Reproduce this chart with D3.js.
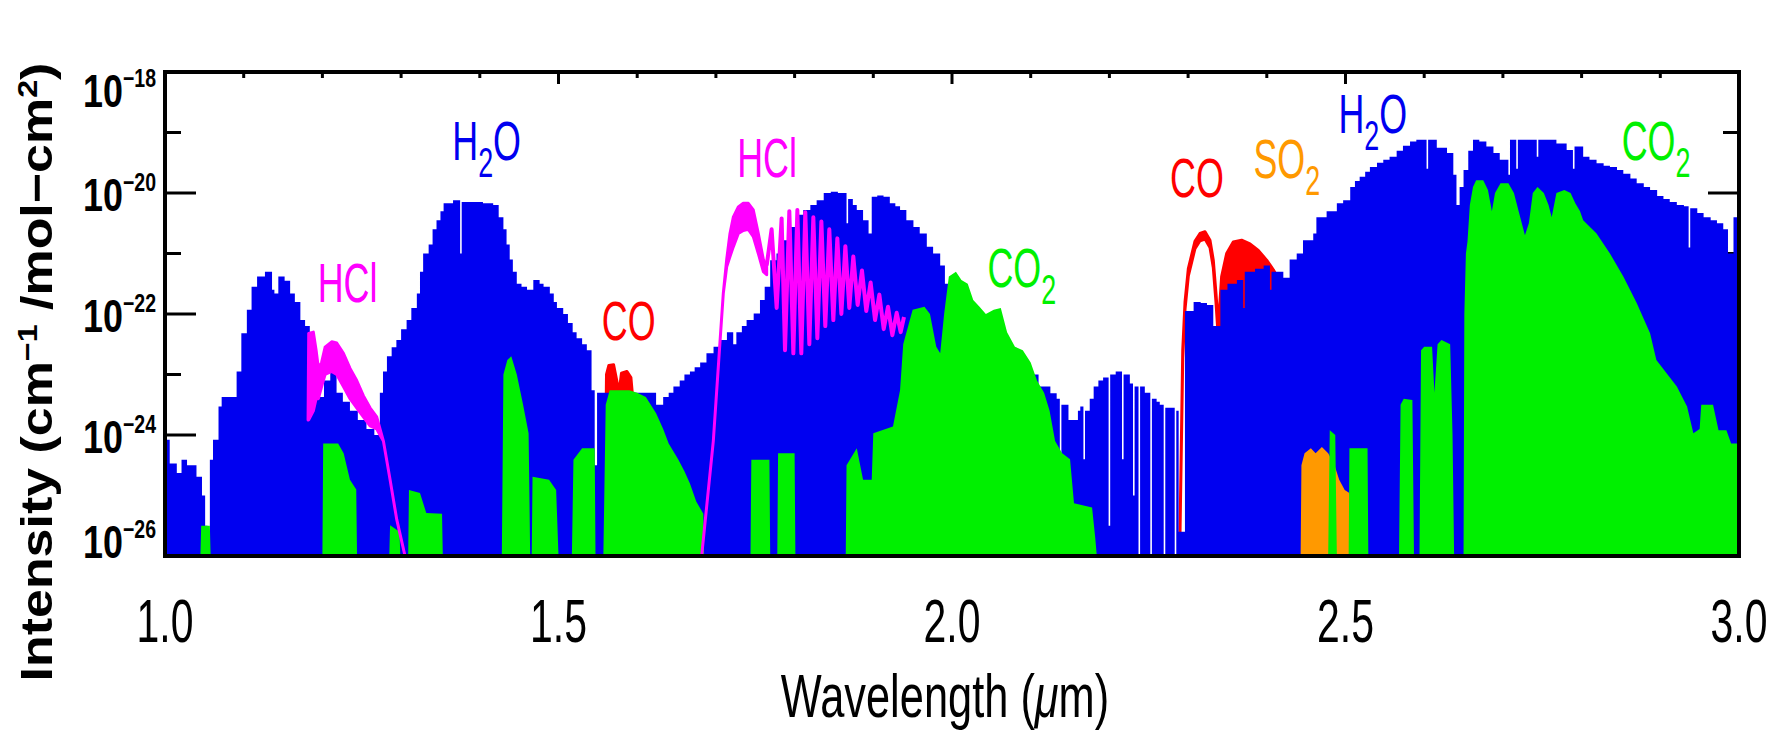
<!DOCTYPE html>
<html>
<head>
<meta charset="utf-8">
<script src="https://cdn.jsdelivr.net/npm/d3@7"></script>
<style>
  body { margin: 0; background: #fff; }
  svg { display: block; }
</style>
</head>
<body>
<script>
// H2O absorption, upper envelope (log10 intensity)
const h2oWave = [1.000,1.006,1.015,1.021,1.028,1.040,1.047,1.051,1.054,1.057,1.061,1.068,1.072,1.091,1.097,1.104,1.110,1.117,1.127,1.136,1.139,1.144,1.152,1.159,1.165,1.172,1.178,1.184,1.193,1.202,1.210,1.218,1.226,1.235,1.245,1.256,1.266,1.273,1.277,1.282,1.288,1.294,1.300,1.307,1.313,1.320,1.324,1.328,1.335,1.340,1.345,1.350,1.354,1.366,1.375,1.377,1.390,1.404,1.417,1.424,1.430,1.434,1.438,1.442,1.447,1.453,1.460,1.468,1.476,1.481,1.489,1.494,1.498,1.506,1.512,1.518,1.523,1.530,1.536,1.542,1.546,1.549,1.600,1.624,1.633,1.640,1.646,1.654,1.660,1.667,1.673,1.680,1.688,1.697,1.705,1.714,1.722,1.726,1.733,1.739,1.748,1.756,1.762,1.769,1.777,1.786,1.794,1.803,1.811,1.820,1.828,1.837,1.846,1.855,1.862,1.866,1.868,1.874,1.879,1.887,1.894,1.898,1.905,1.913,1.921,1.928,1.934,1.942,1.951,1.959,1.968,1.976,1.985,1.991,1.997,2.010,2.030,2.050,2.070,2.090,2.110,2.125,2.133,2.137,2.139,2.148,2.160,2.163,2.167,2.169,2.175,2.180,2.186,2.192,2.199,2.201,2.208,2.216,2.218,2.226,2.230,2.232,2.237,2.239,2.245,2.252,2.254,2.260,2.264,2.269,2.271,2.277,2.283,2.285,2.288,2.296,2.307,2.316,2.324,2.332,2.341,2.350,2.362,2.370,2.372,2.385,2.396,2.404,2.406,2.421,2.429,2.438,2.446,2.459,2.463,2.476,2.489,2.497,2.506,2.512,2.518,2.525,2.531,2.540,2.548,2.556,2.565,2.573,2.582,2.590,2.603,2.605,2.616,2.629,2.637,2.641,2.645,2.650,2.656,2.662,2.670,2.679,2.688,2.696,2.707,2.709,2.717,2.719,2.734,2.743,2.745,2.751,2.768,2.781,2.789,2.791,2.802,2.810,2.819,2.828,2.836,2.845,2.853,2.862,2.870,2.879,2.887,2.896,2.904,2.912,2.921,2.930,2.936,2.938,2.947,2.955,2.964,2.972,2.980,2.986,2.993,3.000];
const h2oLog = [-24.08,-24.47,-24.63,-24.41,-24.5,-24.69,-25.0,-25.5,-26.5,-24.41,-24.08,-23.53,-23.37,-22.95,-22.32,-21.93,-21.55,-21.38,-21.30,-21.6,-21.66,-21.38,-21.45,-21.66,-21.8,-22.1,-22.2,-22.9,-23.37,-23.1,-22.95,-23.3,-23.45,-23.6,-23.75,-23.9,-24.0,-23.3,-22.95,-22.7,-22.55,-22.43,-22.25,-22.1,-21.9,-21.66,-21.3,-21.0,-20.85,-20.6,-20.45,-20.3,-20.17,-20.12,-21.0,-20.15,-20.15,-20.17,-20.2,-20.4,-20.6,-20.85,-21.1,-21.3,-21.5,-21.55,-21.6,-21.44,-21.5,-21.55,-21.66,-21.8,-21.9,-22.0,-22.15,-22.3,-22.4,-22.5,-22.6,-23.26,-24.5,-23.3,-23.3,-23.5,-23.37,-23.3,-23.2,-23.1,-23.0,-22.95,-22.88,-22.8,-22.65,-22.54,-22.43,-22.3,-22.5,-22.3,-22.2,-22.1,-21.99,-21.77,-21.55,-21.11,-21.0,-20.78,-20.56,-20.36,-20.28,-20.2,-20.12,-20.0,-19.98,-20.0,-20.0,-20.5,-20.1,-20.2,-20.28,-20.45,-20.67,-20.06,-20.04,-20.06,-20.17,-20.22,-20.28,-20.45,-20.56,-20.67,-20.89,-21.0,-21.2,-21.5,-22.0,-22.2,-22.4,-22.6,-22.8,-23.0,-23.2,-23.31,-23.4,-24.3,-23.5,-23.75,-23.6,-23.53,-24.4,-23.6,-23.4,-23.2,-23.1,-23.05,-25.5,-23.0,-22.95,-24.4,-23.0,-23.15,-25.0,-23.2,-26.5,-23.2,-23.3,-26.5,-23.4,-23.45,-23.5,-26.5,-23.55,-23.55,-26.5,-23.6,-25.6,-21.95,-21.8,-21.82,-21.85,-22.2,-21.6,-21.5,-21.44,-21.9,-21.3,-21.25,-21.2,-21.6,-21.3,-21.4,-21.1,-21.0,-20.78,-20.67,-20.4,-20.3,-20.17,-20.12,-19.9,-19.8,-19.73,-19.65,-19.57,-19.5,-19.45,-19.4,-19.3,-19.22,-19.15,-19.12,-19.6,-19.12,-19.25,-19.34,-19.7,-20.2,-19.9,-19.62,-19.3,-19.12,-19.15,-19.23,-19.34,-19.45,-19.7,-19.12,-19.6,-19.12,-19.12,-19.4,-19.12,-19.12,-19.18,-19.29,-19.6,-19.23,-19.4,-19.45,-19.51,-19.55,-19.57,-19.62,-19.68,-19.76,-19.84,-19.9,-19.95,-20.05,-20.1,-20.15,-20.2,-20.22,-20.9,-20.25,-20.33,-20.4,-20.45,-20.5,-20.6,-21.0,-20.4,-20.4];

// CO2 envelope
const co2Wave = [1.045,1.046,1.057,1.058,1.200,1.201,1.220,1.227,1.235,1.243,1.244,1.285,1.286,1.298,1.299,1.309,1.310,1.324,1.332,1.352,1.353,1.428,1.430,1.435,1.440,1.447,1.455,1.462,1.464,1.466,1.467,1.488,1.497,1.500,1.517,1.519,1.530,1.546,1.547,1.557,1.560,1.565,1.590,1.600,1.611,1.624,1.633,1.640,1.652,1.660,1.667,1.675,1.684,1.685,1.744,1.745,1.768,1.769,1.778,1.779,1.800,1.801,1.865,1.866,1.879,1.887,1.898,1.900,1.925,1.934,1.938,1.950,1.965,1.972,1.980,1.985,1.990,1.996,2.005,2.012,2.020,2.027,2.035,2.043,2.053,2.062,2.070,2.080,2.090,2.100,2.108,2.117,2.124,2.131,2.140,2.150,2.155,2.178,2.182,2.184,2.478,2.480,2.487,2.489,2.504,2.505,2.528,2.529,2.568,2.570,2.574,2.585,2.587,2.594,2.596,2.600,2.610,2.613,2.617,2.622,2.633,2.636,2.638,2.650,2.651,2.653,2.655,2.658,2.662,2.666,2.675,2.681,2.686,2.690,2.697,2.707,2.714,2.720,2.728,2.733,2.738,2.744,2.752,2.758,2.762,2.768,2.778,2.786,2.792,2.798,2.802,2.819,2.836,2.853,2.870,2.887,2.895,2.908,2.921,2.934,2.942,2.950,2.952,2.967,2.974,2.984,2.990,3.000];
const co2Log = [-27,-25.5,-25.5,-27,-27,-24.14,-24.14,-24.3,-24.74,-24.9,-27,-27,-25.49,-25.6,-27,-27,-24.91,-24.96,-25.29,-25.3,-27,-27,-23.0,-22.76,-22.7,-23.0,-23.5,-23.97,-27,-27,-24.69,-24.74,-24.91,-27,-27,-24.41,-24.22,-24.22,-27,-27,-23.5,-23.26,-23.26,-23.3,-23.37,-23.64,-23.9,-24.14,-24.4,-24.6,-24.8,-25.1,-25.3,-27,-27,-24.41,-24.41,-27,-27,-24.3,-24.3,-27,-27,-24.5,-24.22,-24.74,-24.74,-23.97,-23.86,-23.26,-22.5,-21.93,-21.88,-22.0,-22.54,-22.65,-22.0,-21.38,-21.3,-21.44,-21.5,-21.77,-21.88,-22.0,-21.93,-21.9,-22.3,-22.54,-22.6,-22.8,-23.1,-23.3,-23.6,-24.1,-24.3,-24.4,-25.13,-25.2,-25.7,-27,-27,-23.92,-24.0,-27,-27,-24.22,-24.22,-27,-27,-23.5,-23.4,-23.42,-27,-27,-22.6,-22.54,-22.54,-23.3,-22.5,-22.43,-22.5,-24.0,-27,-27,-22.0,-21.0,-20.8,-20.2,-19.9,-19.79,-19.79,-19.95,-20.3,-20.0,-19.84,-19.84,-20.0,-20.3,-20.7,-20.5,-20.0,-19.9,-20.0,-20.2,-20.4,-20.0,-19.95,-20.0,-20.17,-20.3,-20.45,-20.67,-21.0,-21.38,-21.82,-22.32,-22.76,-22.98,-23.2,-23.53,-23.97,-23.9,-23.5,-23.5,-23.92,-23.92,-24.14,-24.14];

// SO2 envelope
const so2Wave = [2.443,2.444,2.448,2.456,2.462,2.470,2.478,2.486,2.492,2.499,2.505,2.510,2.513,2.514];
const so2Log = [-27,-24.5,-24.3,-24.22,-24.3,-24.2,-24.3,-24.5,-24.74,-24.91,-24.96,-25.2,-25.3,-27];

// CO bands: top and bottom of the line comb
const coAWave = [1.5585,1.561,1.564,1.570,1.574,1.577,1.580,1.587,1.592,1.595,1.597];
const coATop = [-26,-23.0,-22.85,-22.84,-23.1,-23.3,-22.98,-22.95,-23.05,-23.5,-23.8];
const coABot = [-26,-23.3,-23.3,-23.3,-23.5,-23.7,-23.5,-23.5,-23.6,-23.9,-24.0];

const coBWave = [2.2876,2.2897,2.2932,2.2961,2.3003,2.3087,2.3151,2.3215,2.3278,2.3320,2.3354,2.3384,2.3426,2.3490,2.3574,2.3680,2.3786,2.3892,2.3998,2.4083,2.4167,2.4231,2.4273,2.4303];
const coBTop = [-26,-25.63,-22.6,-21.8,-21.25,-20.8,-20.67,-20.64,-20.78,-21.11,-21.66,-22.21,-21.38,-21.0,-20.81,-20.78,-20.84,-20.95,-21.11,-21.27,-21.47,-21.66,-21.82,-22.0];
const coBBot = [-26,-25.63,-22.72,-21.92,-21.37,-20.92,-20.79,-20.76,-20.9,-21.23,-21.8,-22.4,-22.2,-22.2,-22.2,-22.2,-22.2,-22.2,-22.2,-22.2,-22.2,-22.2,-22.2,-22.2];

// HCl bands
const hclAWave = [1.1818,1.1826,1.1885,1.1920,1.1949,1.1990,1.2034,1.2118,1.2182,1.2267,1.2351,1.2436,1.2520,1.2605,1.2690,1.2775,1.2860,1.2945,1.3050];
const hclATop = [-23.75,-22.32,-22.3,-22.6,-22.9,-22.8,-22.55,-22.46,-22.48,-22.65,-22.9,-23.1,-23.35,-23.55,-23.7,-24.1,-24.74,-25.4,-26];
const hclABot = [-23.75,-23.75,-23.6,-23.4,-23.4,-23.2,-23.0,-22.95,-23.0,-23.2,-23.4,-23.55,-23.7,-23.85,-23.9,-24.1,-24.74,-25.4,-26];

const hclBWave = [1.6819,1.6967,1.7052,1.7094,1.7137,1.7179,1.7221,1.7285,1.7348,1.7412,1.7475,1.7539,1.7603,1.7645];
const hclBTop = [-26,-24.1,-22.46,-21.66,-21.1,-20.67,-20.4,-20.23,-20.17,-20.17,-20.28,-20.67,-21.1,-21.2];
const hclBBot = [-26,-24.1,-22.46,-21.66,-21.22,-21.05,-20.89,-20.67,-20.62,-20.6,-20.72,-21.0,-21.3,-21.35];

// HCl P branch near 1.8 um: line peaks and the troughs between them
const hclPWave = [1.7645,1.7708,1.7772,1.7835,1.7878,1.7933,1.7984,1.8035,1.8085,1.8136,1.8187,1.8238,1.8289,1.8340,1.8390,1.8441,1.8492,1.8543,1.8594,1.8645,1.8695,1.8746,1.8801,1.8856,1.8911,1.8966,1.9022,1.9077,1.9132,1.9187,1.9242,1.9297,1.9348,1.9390];
const hclPLog = [-21.2,-20.6,-21.9,-20.42,-22.6,-20.3,-22.65,-20.28,-22.65,-20.32,-22.5,-20.4,-22.4,-20.47,-22.2,-20.6,-22.1,-20.75,-22.0,-20.88,-21.9,-21.05,-21.85,-21.28,-21.95,-21.48,-22.1,-21.68,-22.25,-21.88,-22.35,-21.98,-22.3,-22.05];

// band labels
const labelNames = ["HCl", "H2O", "CO", "HCl", "CO2", "CO", "SO2", "H2O", "CO2"];
const labelWave = [1.194, 1.365, 1.555, 1.727, 2.045, 2.277, 2.383, 2.491, 2.851];
const labelLog = [-21.80, -19.45, -22.43, -19.74, -21.55, -20.07, -19.75, -19.01, -19.45];

const xTicks = [1.0, 1.5, 2.0, 2.5, 3.0];
const yExps = [-18, -20, -22, -24, -26];

const colors = { H2O: "#0000f0", CO2: "#00f000", SO2: "#ff9900", CO: "#ff0000", HCl: "#ff00ff" };

const width = 1788, height = 734;
const plot = { left: 165, right: 1739, top: 72, bottom: 556 };
const font = "'Liberation Sans', Arial, Helvetica, sans-serif";

const svg = d3.select("body").append("svg")
  .attr("width", width)
  .attr("height", height)
  .style("background", "#fff");

const x = d3.scaleLinear().domain([1, 3]).range([plot.left, plot.right]);
const y = d3.scaleLog().domain([1e-26, 1e-18]).range([plot.bottom, plot.top]).clamp(true);
const p10 = e => Math.pow(10, e);

// ticks (under the data, like the original)
const tickG = svg.append("g").attr("stroke", "#000").attr("stroke-width", 3);
d3.range(10, 31).forEach(k => {
  const v = k / 10;
  const len = k % 5 === 0 ? 12 : 6;
  tickG.append("line").attr("x1", x(v)).attr("x2", x(v)).attr("y1", plot.top).attr("y2", plot.top + len);
  tickG.append("line").attr("x1", x(v)).attr("x2", x(v)).attr("y1", plot.bottom).attr("y2", plot.bottom - len);
});
d3.range(-26, -17).forEach(e => {
  const len = e % 2 === 0 ? 31 : 16;
  tickG.append("line").attr("x1", plot.left).attr("x2", plot.left + len).attr("y1", y(p10(e))).attr("y2", y(p10(e)));
  tickG.append("line").attr("x1", plot.right - len).attr("x2", plot.right).attr("y1", y(p10(e))).attr("y2", y(p10(e)));
});

svg.append("clipPath").attr("id", "clip")
  .append("rect")
  .attr("x", plot.left).attr("y", plot.top)
  .attr("width", plot.right - plot.left).attr("height", plot.bottom - plot.top);

const dataG = svg.append("g").attr("clip-path", "url(#clip)");

const envelope = curve => d3.area()
  .x(d => x(d[0]))
  .y0(y(1e-26))
  .y1(d => y(p10(d[1])))
  .curve(curve);

const band = d3.area()
  .x(d => x(d[0]))
  .y0(d => y(p10(d[2])))
  .y1(d => y(p10(d[1])));

const zigzag = d3.line()
  .x(d => x(d[0]))
  .y(d => y(p10(d[1])));

function drawBand(w, top, bot, color) {
  dataG.append("path")
    .datum(w.map((v, i) => [v, top[i], bot[i]]))
    .attr("d", band)
    .attr("fill", color)
    .attr("stroke", color)
    .attr("stroke-width", 3)
    .attr("stroke-linejoin", "round");
}

// CO first, water on top of it
drawBand(coAWave, coATop, coABot, colors.CO);
drawBand(coBWave, coBTop, coBBot, colors.CO);

dataG.append("path")
  .datum(d3.zip(h2oWave, h2oLog))
  .attr("d", envelope(d3.curveStepAfter))
  .attr("fill", colors.H2O);

dataG.append("path")
  .datum(d3.zip(so2Wave, so2Log))
  .attr("d", envelope(d3.curveLinear))
  .attr("fill", colors.SO2);

dataG.append("path")
  .datum(d3.zip(co2Wave, co2Log))
  .attr("d", envelope(d3.curveLinear))
  .attr("fill", colors.CO2);

drawBand(hclAWave, hclATop, hclABot, colors.HCl);
drawBand(hclBWave, hclBTop, hclBBot, colors.HCl);

dataG.append("path")
  .datum(d3.zip(hclPWave, hclPLog))
  .attr("d", zigzag)
  .attr("fill", "none")
  .attr("stroke", colors.HCl)
  .attr("stroke-width", 4)
  .attr("stroke-linejoin", "round");

// frame
svg.append("rect")
  .attr("x", plot.left).attr("y", plot.top)
  .attr("width", plot.right - plot.left).attr("height", plot.bottom - plot.top)
  .attr("fill", "none").attr("stroke", "#000").attr("stroke-width", 4);

// x tick labels
svg.append("g").selectAll("text")
  .data(xTicks)
  .enter().append("text")
  .attr("transform", d => `translate(${x(d)},642) scale(0.66,1)`)
  .attr("text-anchor", "middle")
  .style("font-family", font)
  .style("font-size", "62px")
  .text(d => d3.format(".1f")(d));

// y tick labels, the end ones are pulled inward
const yShift = e => e === -18 ? 35 : e === -26 ? 2 : 18;
const yl = svg.append("g").selectAll("text")
  .data(yExps)
  .enter().append("text")
  .attr("transform", d => `translate(156,${y(p10(d)) + yShift(d)}) scale(0.78,1)`)
  .attr("text-anchor", "end")
  .style("font-family", font)
  .style("font-weight", "bold")
  .style("font-size", "46px");
yl.append("tspan").text("10");
yl.append("tspan").attr("dy", -20).style("font-size", "25px").text(d => "\u2212" + Math.abs(d));

// x title
const xt = svg.append("text")
  .attr("transform", "translate(945,717) scale(0.7,1)")
  .attr("text-anchor", "middle")
  .style("font-family", font)
  .style("font-size", "62px");
xt.append("tspan").text("Wavelength (");
xt.append("tspan").style("font-style", "italic").text("\u03bc");
xt.append("tspan").text("m)");

// y title, stretched along its length to fit the original
const yt = svg.append("text")
  .attr("text-anchor", "middle")
  .style("font-family", font)
  .style("font-weight", "bold")
  .style("font-size", "45px");
yt.append("tspan").text("Intensity (cm");
yt.append("tspan").attr("dy", -15).style("font-size", "28px").text("\u22121");
yt.append("tspan").attr("dy", 15).text(" /mol\u2212cm");
yt.append("tspan").attr("dy", -15).style("font-size", "28px").text("2");
yt.append("tspan").attr("dy", 15).text(")");
const ytLen = yt.node().getComputedTextLength();
yt.attr("transform", `translate(52,372) rotate(-90) scale(${619 / ytLen},1)`);

// species labels
labelNames.forEach((name, i) => {
  const species = name.replace(/[^A-Za-z0-9]/g, "");
  const t = svg.append("text")
    .attr("transform", `translate(${x(labelWave[i])},${y(p10(labelLog[i]))}) scale(0.64,1)`)
    .style("font-family", font)
    .style("font-size", "56px")
    .attr("fill", colors[species]);
  let low = false;
  name.split("").forEach(ch => {
    const isSub = /[0-9]/.test(ch);
    const s = t.append("tspan").text(ch);
    if (isSub && !low) { s.attr("dy", 17).style("font-size", "42px"); low = true; }
    else if (isSub) { s.style("font-size", "42px"); }
    else if (low) { s.attr("dy", -17); low = false; }
  });
});
</script>
</body>
</html>
